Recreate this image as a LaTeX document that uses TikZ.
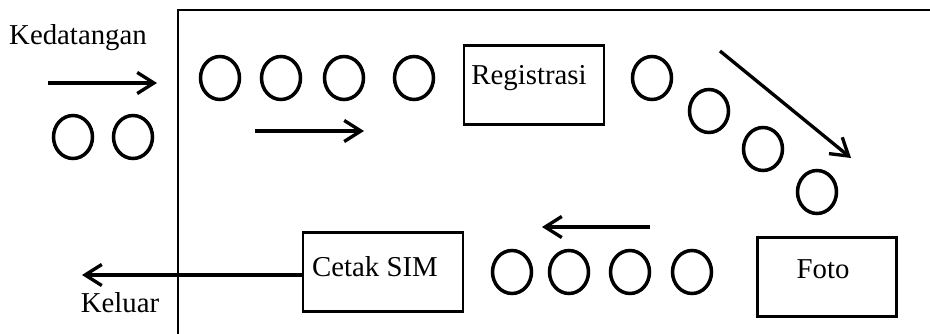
\documentclass[tikz,border=0pt]{standalone}
\usepackage{fontspec}
\setmainfont{Liberation Serif}
\usetikzlibrary{arrows.meta,shapes.geometric,positioning}

\tikzset{%
  % Specifications for style of nodes:
         person/.style = {ellipse, draw = black, line width=2pt, minimum width=0.78cm, minimum height=0.86cm, inner sep=0pt},
         loket/.style  = {rectangle, draw = black, line width=1.3pt, minimum height=1.58cm, inner sep=0pt},
         alur/.style   = {-{Straight Barb[length=9.5pt, width=12pt, line width=1.9pt]}, line width=1.9pt},
}

\begin{document}
\begin{tikzpicture}[x=0.02cm, y=-0.02cm, every node/.style={font=\fontsize{16.4}{19}\selectfont}]
    \useasboundingbox (0,0) rectangle (930,334);

    % Draw area
    \draw[line width=1.4pt] (178,334) -- (178,10) -- (930,10);

    % Draw nodes
    \node (masuk)       at (78,38)                        {Kedatangan};
    \node (keluar)      at (120,303)                      {Keluar};

    \node (regis)       [loket, minimum width=2.8cm]  at (534,85)   {};
    \node (regis-txt)   at (529,78)                       {Registrasi};
    \node (foto)        [loket, minimum width=2.78cm] at (827,277)  {};
    \node (foto-txt)    at (823,269)                      {Foto};
    \node (cetak)       [loket, minimum width=3.2cm]  at (383,272)  {};
    \node (cetak-txt)   at (375,267)                      {Cetak SIM};

    \node (luar1)       [person] at (73,137)  {};
    \node (luar2)       [person] at (133,137) {};

    \node (antre1)      [person] at (220,78)  {};
    \node (antre2)      [person] at (281,78)  {};
    \node (antre3)      [person] at (344,78)  {};
    \node (antre4)      [person] at (414,78)  {};

    \node (tunggu1)     [person] at (652,78)  {};
    \node (tunggu2)     [person] at (709,111) {};
    \node (tunggu3)     [person] at (763,149) {};
    \node (tunggu4)     [person] at (817,192) {};

    \node (ambil1)      [person] at (512,272) {};
    \node (ambil2)      [person] at (569,272) {};
    \node (ambil3)      [person] at (630,272) {};
    \node (ambil4)      [person] at (692,272) {};

    % Draw arrows
    \coordinate (a1) at (48,83);   \coordinate (b1) at (157,83);
    \coordinate (a2) at (255,131); \coordinate (b2) at (364,131);
    \coordinate (a3) at (720,51);  \coordinate (b3) at (851,158);
    \coordinate (a4) at (650,227); \coordinate (b4) at (542,227);
    \coordinate (b5) at (82,275);

    \draw[alur]           (a1) -- (b1);
    \draw[alur]           (a2) -- (b2);
    \draw[alur]           (a3) -- (b3);
    \draw[alur]           (a4) -- (b4);
    \draw[alur]           (cetak.west |- b5) -- (b5);
\end{tikzpicture}
\end{document}
